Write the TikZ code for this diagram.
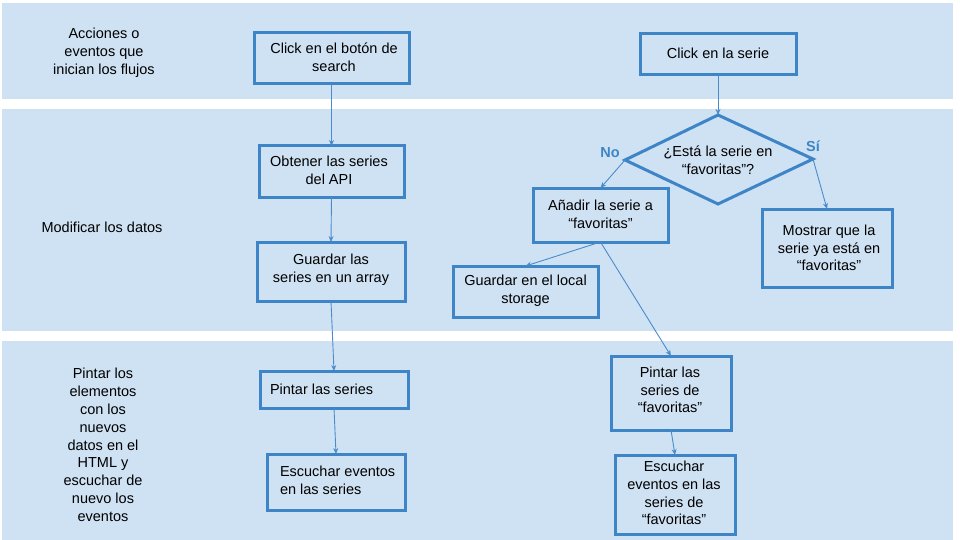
\documentclass[tikz,border=0pt]{standalone}
\usepackage{fontspec}
\setmainfont{Liberation Sans}
\usetikzlibrary{arrows.meta}
\definecolor{bandc}{HTML}{CFE2F3}
\definecolor{boxc}{HTML}{3D85C6}
\definecolor{linec}{HTML}{4A8BCB}
\begin{document}
\begin{tikzpicture}[x=1pt,y=-1pt,
  every node/.style={font=\fontsize{14.5}{17.8}\selectfont, inner sep=0pt, outer sep=0pt},
  box/.style={draw=boxc, line width=3pt, align=center},
  lefttxt/.style={align=center},
  conn/.style={draw=linec, line width=0.9pt, -{Stealth[length=6pt,width=5pt]}},
  lbl/.style={text=boxc, font=\fontsize{14.5}{17.8}\selectfont\bfseries}
]
\useasboundingbox (0,0) rectangle (960,540);
% bands
\fill[bandc] (2,3) rectangle (953,99);
\fill[bandc] (2,109) rectangle (953,331);
\fill[bandc] (2,341) rectangle (953,540);
% left labels
\node[lefttxt] (lab1) at (104,53) {Acciones o\\eventos que\\inician los flujos};
\node[lefttxt] (lab2) at (102,227) {Modificar los datos};
\node[lefttxt] (lab3) at (103,445) {Pintar los\\elementos\\con los\\nuevos\\datos en el\\HTML y\\escuchar de\\nuevo los\\eventos};
% left column
\node[box, minimum width=155, minimum height=51] (clicksearch) at (331.5,58.5) {};
\node (clicksearchT) at (334,57) [align=center] {Click en el botón de\\search};
\node[box, minimum width=145, minimum height=51] (obtener) at (331.5,171.5) {};
\node (obtenerT) at (329,170) [align=center] {Obtener las series\\del API};
\node[box, minimum width=148, minimum height=59] (guardarArr) at (331,271.5) {};
\node (guardarArrT) at (331,270) [align=center] {Guardar las\\series en un array};
\node[box, minimum width=148, minimum height=37] (pintar) at (334,389.5) {};
\node[anchor=west] (pintarT) at (270,389.5) {Pintar las series};
\node[box, minimum width=138, minimum height=56] (escuchar) at (336,482) {};
\node[anchor=west, align=left] (escucharT) at (280,480) {Escuchar eventos\\en las series};
% right column
\node[box, minimum width=156, minimum height=41] (clickserie) at (718,54.5) {};
\node (clickserieT) at (718,53) {Click en la serie};
\coordinate (dt) at (718,115);
\coordinate (dl) at (625,160);
\coordinate (dr) at (813,159);
\coordinate (db) at (718,204);
\draw[draw=boxc, line width=3pt, line join=miter] (dt) -- (dr) -- (db) -- (dl) -- cycle;
\node[align=center] (diamT) at (718,160) {¿Está la serie en\\“favoritas”?};
\node[box, minimum width=135, minimum height=54] (anadir) at (600.5,215) {};
\node (anadirT) at (600.5,214) [align=center] {Añadir la serie a\\“favoritas”};
\node[box, minimum width=145, minimum height=51] (guardarLocal) at (525.5,291.5) {};
\node (guardarLocalT) at (525.5,291) [align=center] {Guardar en el local\\storage};
\node[box, minimum width=130, minimum height=78] (mostrar) at (827,248) {};
\node (mostrarT) at (829,248) [align=center] {Mostrar que la\\serie ya está en\\“favoritas”};
\node[box, minimum width=120, minimum height=74] (pintarFav) at (671,393) {};
\node (pintarFavT) at (670,390) [align=center] {Pintar las\\series de\\“favoritas”};
\node[box, minimum width=120, minimum height=79] (escucharFav) at (675,494.5) {};
\node (escucharFavT) at (674,493) [align=center] {Escuchar\\eventos en las\\series de\\“favoritas”};
% labels
\node[lbl] (no) at (610,153) {No};
\node[lbl] (si) at (813,146) {Sí};
% connectors
\draw[conn] (clicksearch.south) -- (obtener.north);
\draw[conn] (obtener.south) -- (guardarArr.north);
\draw[conn] (guardarArr.south) -- (pintar.north);
\draw[conn] (pintar.south) -- (escuchar.north);
\draw[conn] (clickserie.south) -- (dt);
\draw[conn] (dl) -- (anadir.north);
\draw[conn] (dr) -- (mostrar.north);
\draw[conn] (anadir.south) -- (guardarLocal.north);
\draw[conn] (anadir.south) -- (pintarFav.north);
\draw[conn] (pintarFav.south) -- (escucharFav.north);
\end{tikzpicture}
\end{document}
